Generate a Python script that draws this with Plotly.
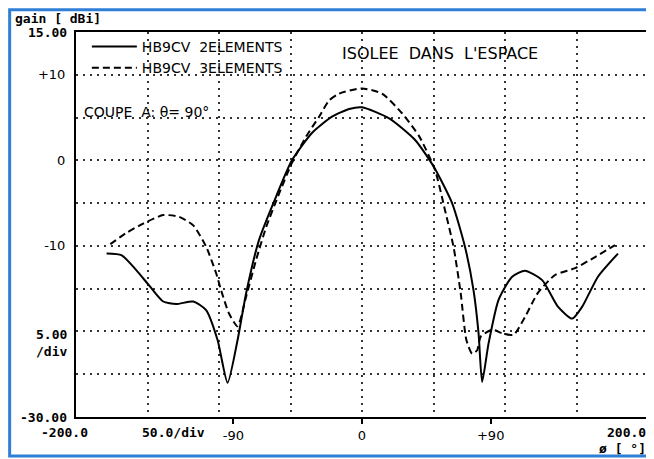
import plotly.graph_objects as go

# HB9CV 2 elements (solid)
phi_2el = [-178.6, -168, -158, -148, -139, -130, -118, -109, -101, -94, -87, -81, -72, -60, -49, -35,
           -21, -9, 0, 19, 37, 50, 63, 72, 78, 81.5, 84, 88.5, 95.5, 105, 114, 126, 137, 147, 154, 165, 179]
gain_2el = [-10.9, -11.1, -12.8, -14.8, -16.5, -16.8, -16.5, -17.5, -21.0, -26.0, -21.0, -15.5, -9.3, -4.2,
            0.0, 3.2, 5.1, 6.0, 6.2, 4.9, 2.4, -0.7, -5.0, -10.1, -15.2, -20.2, -25.9, -21.4, -16.3, -13.6,
            -12.9, -14.0, -17.1, -18.5, -17.1, -13.6, -10.9]

# HB9CV 3 elements (dashed)
phi_3el = [-176, -165, -153, -139, -128, -118, -109, -102, -98.5, -93, -87, -81, -74, -67, -58, -49, -39,
           -30, -23, -16, 0, 14, 28, 40, 51, 58, 64, 69, 73, 77, 80.5, 83, 91, 98, 106, 114, 123, 135, 149,
           163, 177]
gain_3el = [-9.8, -8.5, -7.4, -6.4, -6.6, -7.6, -10.1, -13.2, -15.2, -17.9, -19.4, -15.9, -11.6, -7.8, -3.9,
            -0.3, 2.8, 5.1, 7.0, 7.8, 8.4, 7.8, 5.5, 2.8, -1.1, -5.8, -10.1, -15.5, -21.0, -22.6, -22.2,
            -20.6, -19.8, -20.2, -20.4, -18.3, -15.5, -13.4, -12.6, -11.3, -9.9]

x_range = [-200, 200]
y_range = [-30, 15]
x_tickvals = [-90, 0, 90]
x_ticktext = ["-90", "0", "+90"]
y_tickvals = [10, 0, -10]
y_ticktext = ["+10", "0", "-10"]

HAND = "DejaVu Sans"
MONO = "DejaVu Sans Mono"
GRID = dict(showgrid=True, gridcolor="#333333", gridwidth=1.5, griddash="2px,5px")

fig = go.Figure()
fig.add_trace(go.Scatter(
    x=phi_2el, y=gain_2el, name="HB9CV  2ELEMENTS", mode="lines",
    line=dict(color="black", width=2, shape="spline", smoothing=0.6),
))
fig.add_trace(go.Scatter(
    x=phi_3el, y=gain_3el, name="HB9CV  3ELEMENTS", mode="lines", xaxis="x2",
    line=dict(color="black", width=2, dash="7px,4px", shape="spline", smoothing=0.6),
))

# page body has an 8px margin, so the figure is 8px smaller each way
fig.update_layout(
    width=646, height=451,
    margin=dict(l=68, r=4, t=24, b=42),
    paper_bgcolor="white", plot_bgcolor="white",
    font=dict(family=HAND, size=13, color="black"),
    showlegend=True,
    legend=dict(x=0.019, y=1.003, xanchor="left", yanchor="top",
                bgcolor="rgba(0,0,0,0)", font=dict(family=HAND, size=14),
                itemwidth=45, tracegroupgap=0),
    xaxis=dict(range=x_range, tickvals=x_tickvals, ticktext=x_ticktext,
               ticks="outside", ticklen=5, tickwidth=2, tickcolor="black",
               showgrid=False, zeroline=False,
               showline=True, linecolor="black", linewidth=2, mirror=True,
               tickfont=dict(family=HAND, size=13)),
    xaxis2=dict(range=x_range, overlaying="x", anchor="y", side="bottom",
                dtick=50, tick0=0, showticklabels=False, ticks="",
                zeroline=False, showline=False, **GRID),
    yaxis=dict(range=y_range, tickvals=y_tickvals, ticktext=y_ticktext,
               ticks="", ticklabelstandoff=6, zeroline=False,
               showline=True, linecolor="black", linewidth=2, mirror=True,
               minor=dict(dtick=5, tick0=0, ticks="", **GRID),
               tickfont=dict(family=HAND, size=13), **GRID),
)

# blue scan frame around the whole picture
fig.add_shape(type="rect", xref="paper", yref="paper", x0=-0.116, x1=1.2, y0=-0.101, y1=1.058,
              line=dict(color="#2f7fd6", width=3), layer="below")

mono = dict(family=MONO, size=13, color="black")
notes = [
    dict(text="<b>gain [ dBi]</b>", xref="paper", yref="paper", x=-0.11, y=1.036, xanchor="left", font=mono),
    dict(text="<b>15.00</b>", xref="paper", yref="y", x=0, y=15, xanchor="right", xshift=-7, font=mono),
    dict(text="<b>-30.00</b>", xref="paper", yref="y", x=0, y=-30, xanchor="right", xshift=-7, font=mono),
    dict(text="<b>5.00<br>/div</b>", xref="paper", yref="y", x=0, y=-20, xanchor="right", yanchor="top",
         yshift=6, xshift=-7, align="right", font=mono),
    dict(text="<b>-200.0</b>", xref="x", yref="paper", x=-200, y=0, xanchor="center", yanchor="top",
         xshift=-12, yshift=-6, font=mono),
    dict(text="<b>50.0/div</b>", xref="paper", yref="paper", x=0.171, y=0, xanchor="center", yanchor="top",
         yshift=-6, font=mono),
    dict(text="<b>200.0</b>", xref="x", yref="paper", x=200, y=0, xanchor="right", yanchor="top",
         yshift=-6, font=mono),
    dict(text="<b>ø [ °]</b>", xref="paper", yref="paper", x=1, y=-0.083, xanchor="right", font=mono),
    dict(text="ISOLEE  DANS  L'ESPACE", xref="paper", yref="paper", x=0.636, y=0.943,
         xanchor="center", font=dict(family=HAND, size=16)),
    dict(text="COUPE  A: θ= 90°", xref="paper", yref="paper", x=0.0105, y=0.792,
         xanchor="left", font=dict(family=HAND, size=14)),
]
for n in notes:
    n.setdefault("yanchor", "middle")
    fig.add_annotation(showarrow=False, **n)

fig.write_html("out.html")
